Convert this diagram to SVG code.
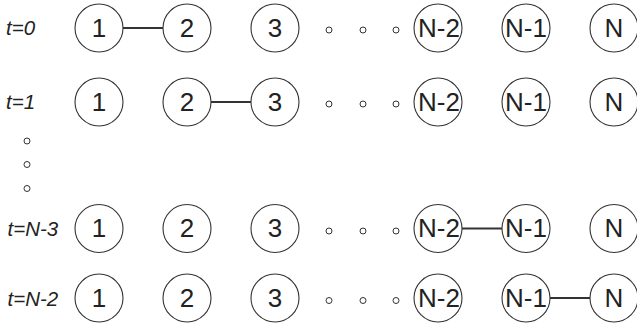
<svg xmlns="http://www.w3.org/2000/svg" width="637" height="324" viewBox="0 0 637 324">
<style>
.n circle{fill:#fff;stroke:#333;stroke-width:1.1}
.n text{font-family:"Liberation Sans",Arial,sans-serif;font-size:26px;fill:#222;text-anchor:middle}
.lbl{font-family:"Liberation Sans",Arial,sans-serif;font-size:20.5px;font-style:italic;fill:#222}
.dot{fill:none;stroke:#333;stroke-width:1}
.edge{stroke:#333;stroke-width:2}
</style>
<rect width="637" height="324" fill="#fff"/>
<g id="labels">
<text class="lbl" x="6" y="35">t=0</text>
<text class="lbl" x="6" y="109">t=1</text>
<text class="lbl" x="7.5" y="236">t=N-3</text>
<text class="lbl" x="7.5" y="306">t=N-2</text>
</g>
<g id="connectors">
<line class="edge" x1="123" y1="28" x2="163" y2="28"/>
<line class="edge" x1="211" y1="102" x2="251" y2="102"/>
<line class="edge" x1="462" y1="228.5" x2="502" y2="228.5"/>
<line class="edge" x1="550" y1="298" x2="590" y2="298"/>
</g>
<g id="dots">
<circle class="dot" cx="329" cy="30" r="3"/><circle class="dot" cx="363" cy="30" r="3"/><circle class="dot" cx="396" cy="30" r="3"/>
<circle class="dot" cx="329" cy="104" r="3"/><circle class="dot" cx="363" cy="104" r="3"/><circle class="dot" cx="396" cy="104" r="3"/>
<circle class="dot" cx="329" cy="231" r="3"/><circle class="dot" cx="363" cy="231" r="3"/><circle class="dot" cx="396" cy="231" r="3"/>
<circle class="dot" cx="329" cy="300.5" r="3"/><circle class="dot" cx="363" cy="300.5" r="3"/><circle class="dot" cx="396" cy="300.5" r="3"/>
<circle class="dot" cx="27" cy="141" r="3"/><circle class="dot" cx="27" cy="164.5" r="3"/><circle class="dot" cx="27" cy="188.5" r="3"/>
</g>
<g id="row0">
<g class="n" id="r0n1"><circle cx="99" cy="28" r="24"/><text x="99" y="36.5">1</text></g>
<g class="n" id="r0n2"><circle cx="187" cy="28" r="24"/><text x="187" y="36.5">2</text></g>
<g class="n" id="r0n3"><circle cx="275" cy="28" r="24"/><text x="275" y="36.5">3</text></g>
<g class="n" id="r0nN2"><circle cx="438" cy="28" r="24"/><text x="439" y="36.5">N-2</text></g>
<g class="n" id="r0nN1"><circle cx="526" cy="28" r="24"/><text x="526" y="36.5">N-1</text></g>
<g class="n" id="r0nN"><circle cx="614" cy="28" r="24"/><text x="614" y="36.5">N</text></g>
</g>
<g id="row1">
<g class="n" id="r1n1"><circle cx="99" cy="102" r="24"/><text x="99" y="110.5">1</text></g>
<g class="n" id="r1n2"><circle cx="187" cy="102" r="24"/><text x="187" y="110.5">2</text></g>
<g class="n" id="r1n3"><circle cx="275" cy="102" r="24"/><text x="275" y="110.5">3</text></g>
<g class="n" id="r1nN2"><circle cx="438" cy="102" r="24"/><text x="439" y="110.5">N-2</text></g>
<g class="n" id="r1nN1"><circle cx="526" cy="102" r="24"/><text x="526" y="110.5">N-1</text></g>
<g class="n" id="r1nN"><circle cx="614" cy="102" r="24"/><text x="614" y="110.5">N</text></g>
</g>
<g id="row2">
<g class="n" id="r2n1"><circle cx="99" cy="228.5" r="24"/><text x="99" y="237">1</text></g>
<g class="n" id="r2n2"><circle cx="187" cy="228.5" r="24"/><text x="187" y="237">2</text></g>
<g class="n" id="r2n3"><circle cx="275" cy="228.5" r="24"/><text x="275" y="237">3</text></g>
<g class="n" id="r2nN2"><circle cx="438" cy="228.5" r="24"/><text x="439" y="237">N-2</text></g>
<g class="n" id="r2nN1"><circle cx="526" cy="228.5" r="24"/><text x="526" y="237">N-1</text></g>
<g class="n" id="r2nN"><circle cx="614" cy="228.5" r="24"/><text x="614" y="237">N</text></g>
</g>
<g id="row3">
<g class="n" id="r3n1"><circle cx="99" cy="298" r="24"/><text x="99" y="306.5">1</text></g>
<g class="n" id="r3n2"><circle cx="187" cy="298" r="24"/><text x="187" y="306.5">2</text></g>
<g class="n" id="r3n3"><circle cx="275" cy="298" r="24"/><text x="275" y="306.5">3</text></g>
<g class="n" id="r3nN2"><circle cx="438" cy="298" r="24"/><text x="439" y="306.5">N-2</text></g>
<g class="n" id="r3nN1"><circle cx="526" cy="298" r="24"/><text x="526" y="306.5">N-1</text></g>
<g class="n" id="r3nN"><circle cx="614" cy="298" r="24"/><text x="614" y="306.5">N</text></g>
</g>
</svg>
